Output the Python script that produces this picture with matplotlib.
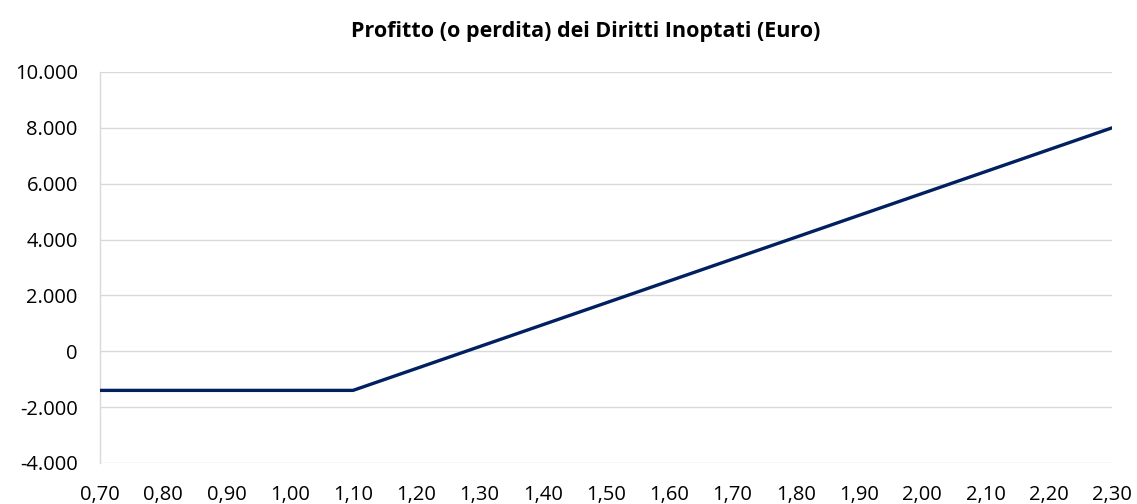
import matplotlib
matplotlib.use("Agg")
import matplotlib.pyplot as plt
from matplotlib.ticker import FuncFormatter

prices = [0.70, 0.80, 0.90, 1.00, 1.10, 1.20, 1.30, 1.40, 1.50, 1.60, 1.70,
          1.80, 1.90, 2.00, 2.10, 2.20, 2.30]
profit = [-1400, -1400, -1400, -1400, -1400, -617, 167, 950, 1733, 2517, 3300,
          4083, 4867, 5650, 6433, 7217, 8000]
title = "Profitto (o perdita) dei Diritti Inoptati (Euro)"
yticks = [-4000, -2000, 0, 2000, 4000, 6000, 8000, 10000]

plt.rcParams['font.family'] = ['Open Sans', 'DejaVu Sans']

fig = plt.figure(figsize=(11.37, 5.04), dpi=100)
ax = fig.add_axes([100/1137, 1-463/504, (1112-100)/1137, (463-72)/504])

ax.plot(prices, profit, color='#002060', linewidth=2.4, solid_capstyle='round',
        solid_joinstyle='round', zorder=3)

ax.set_xlim(prices[0], prices[-1])
ax.set_ylim(-4000, 10000)
ax.set_xticks(prices)
ax.set_xticklabels([f"{p:.2f}".replace('.', ',') for p in prices])
ax.set_yticks(yticks)
ax.yaxis.set_major_formatter(FuncFormatter(lambda v, _: f"{int(v):,}".replace(',', '.')))

ax.grid(axis='y', color='#d9d9d9', linewidth=1.0, zorder=0)
ax.grid(axis='x', visible=False)
for s in ['top', 'right', 'bottom']:
    ax.spines[s].set_visible(False)
ax.spines['left'].set_color('#d9d9d9')
ax.spines['left'].set_linewidth(1.0)
ax.tick_params(axis='both', length=0, labelsize=14.5, colors='black')
ax.tick_params(axis='x', pad=16)
ax.tick_params(axis='y', pad=16)

fig.text(586/1137, 1-31/504, title, ha='center', va='center',
         fontsize=15.5, fontweight='bold')

fig.savefig("out.png", dpi=100)
